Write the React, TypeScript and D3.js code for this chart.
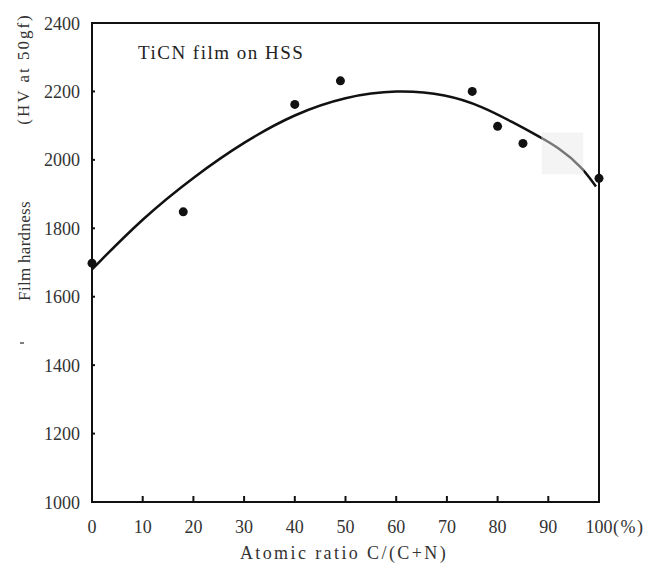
import React from "react";
import * as d3 from "d3";

const W = 650;
const H = 563;

// Measured data points (C/(C+N) %, HV)
const pointX = [0, 18, 40, 49, 75, 80, 85, 100];
const pointY = [1698, 1848, 2162, 2231, 2200, 2098, 2048, 1946];

// Fitted curve
const curveX = [0, 10, 20, 30, 40, 50, 60, 70, 77, 83, 88, 92, 96.6, 99.4];
const curveY = [1680, 1830, 1950, 2053, 2135, 2185, 2205, 2192, 2156, 2110, 2070, 2036, 1980, 1922];

const xTicks = [0, 10, 20, 30, 40, 50, 60, 70, 80, 90, 100];
const yTicks = [1000, 1200, 1400, 1600, 1800, 2000, 2200, 2400];

const FONT = "Liberation Serif";

export default function App() {
  const left = 92, right = 599, top = 23, bottom = 502;
  const x = d3.scaleLinear().domain([0, 100]).range([left, right]);
  const y = d3.scaleLinear().domain([1000, 2400]).range([bottom, top]);

  const line = d3
    .line<number>()
    .x((_, i) => x(curveX[i]))
    .y((d) => y(d))
    .curve(d3.curveBasis);
  const pathD = line(curveY) || "";

  // scan artifact patch
  const patch = { x0: 88.7, x1: 96.9, y0: 2080, y1: 1958 };

  return (
    <div style={{ position: "absolute", left: 0, top: 0 }}>
      <svg width={W} height={H} style={{ display: "block", background: "#fff" }}>
        <defs>
          <clipPath id="patchClip">
            <rect x={x(patch.x0)} y={y(patch.y0)} width={x(patch.x1) - x(patch.x0)} height={y(patch.y1) - y(patch.y0)} />
          </clipPath>
        </defs>
        {/* frame */}
        <rect x={left} y={top} width={right - left} height={bottom - top} fill="none" stroke="#111" strokeWidth={2} />
        {/* ticks */}
        {xTicks.map((t) => (
          <line key={"xt" + t} x1={x(t)} x2={x(t)} y1={bottom} y2={bottom - 6} stroke="#111" strokeWidth={2} />
        ))}
        {yTicks.map((t) => (
          <line key={"yt" + t} x1={left} x2={left + 3} y1={y(t)} y2={y(t)} stroke="#111" strokeWidth={2} />
        ))}
        {/* x tick labels */}
        {xTicks.map((t) => (
          <text key={"xl" + t} x={x(t)} y={533} textAnchor="middle" style={{ fontFamily: FONT }} fontSize={18} fill="#333">
            {t}
          </text>
        ))}
        <text x={x(100) + 14} y={533} style={{ fontFamily: FONT }} fontSize={18} fill="#333" letterSpacing={1.5}>
          (%)
        </text>
        {/* y tick labels */}
        {yTicks.map((t) => (
          <text key={"yl" + t} x={80} y={y(t) + 6.5} textAnchor="end" style={{ fontFamily: FONT }} fontSize={18} fill="#333">
            {t}
          </text>
        ))}
        {/* axis titles */}
        <text x={344} y={559} textAnchor="middle" style={{ fontFamily: FONT }} fontSize={18} fill="#333" letterSpacing={2.4}>
          Atomic ratio C/(C+N)
        </text>
        <text transform="translate(29,69) rotate(-90)" textAnchor="middle" style={{ fontFamily: FONT }} fontSize={17} fill="#333" letterSpacing={2}>
          (HV at 50gf)
        </text>
        <text transform="translate(30,251) rotate(-90)" textAnchor="middle" style={{ fontFamily: FONT }} fontSize={17} fill="#333" letterSpacing={0.3}>
          Film hardness
        </text>
        <line x1={20} x2={24} y1={343} y2={343} stroke="#555" strokeWidth={1.5} />
        {/* annotation */}
        <text x={138} y={58.5} style={{ fontFamily: FONT }} fontSize={19} fill="#222" letterSpacing={1.5}>
          TiCN film on HSS
        </text>
        {/* fitted curve */}
        <path d={pathD} fill="none" stroke="#111" strokeWidth={2.5} />
        {/* scan patch */}
        <rect x={x(patch.x0)} y={y(patch.y0)} width={x(patch.x1) - x(patch.x0)} height={y(patch.y1) - y(patch.y0)} fill="#f4f4f4" />
        <path d={pathD} fill="none" stroke="#777" strokeWidth={2.5} clipPath="url(#patchClip)" />
        {/* data points */}
        {pointX.map((px, i) => (
          <circle key={"p" + i} cx={x(px)} cy={y(pointY[i])} r={4.5} fill="#111" />
        ))}
      </svg>
    </div>
  );
}
